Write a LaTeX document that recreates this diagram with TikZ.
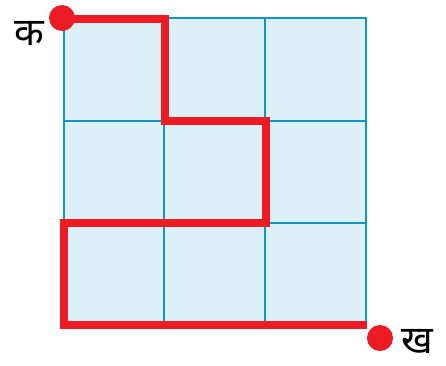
\documentclass[tikz,border=0pt]{standalone}
\usepackage{fontspec}
\newfontfamily\devfont[Script=Devanagari]{Noto Sans}
\definecolor{cellfill}{HTML}{DDEFF7}
\definecolor{gridblue}{HTML}{1296C8}
\definecolor{pathred}{HTML}{ED1C24}
\tikzset{
  cellbox/.style={draw=gridblue, line width=2.2pt, fill=cellfill},
  redpath/.style={draw=pathred, line width=6pt},
  reddot/.style={circle, fill=pathred, inner sep=0pt, minimum size=19.5pt},
  lbl/.style={font=\devfont\fontsize{29}{33}\selectfont, inner sep=0pt, text=black}
}
\begin{document}
\begin{tikzpicture}[x=0.75pt,y=-0.75pt]
\useasboundingbox (0,0) rectangle (446,365);
% grid cells
\path[cellbox] (64,18) rectangle (164,121);
\path[cellbox] (164,18) rectangle (265,121);
\path[cellbox] (265,18) rectangle (366,121);
\path[cellbox] (64,121) rectangle (164,222);
\path[cellbox] (164,121) rectangle (265,222);
\path[cellbox] (265,121) rectangle (366,223);
\path[cellbox] (64,222) rectangle (164,324);
\path[cellbox] (164,222) rectangle (265,324);
\path[cellbox] (265,223) rectangle (366,324);
% path coordinates
\coordinate (p0) at (63,19);
\coordinate (p1) at (165,19);
\coordinate (p2) at (165,121);
\coordinate (p3) at (266,121);
\coordinate (p4) at (266,223);
\coordinate (p5) at (64,223);
\coordinate (p6) at (64,324.5);
\coordinate (p7) at (367,324.5);
\draw[redpath] (p0) -| (p2) -| (p4) -| (p6) -- (p7);
\node[reddot] (start) at (62,18) {};
\node[reddot] (end) at (380,338) {};
\node[lbl] (ka) at (29,33) {क};
\node[lbl] (kha) at (417,341) {ख};
\end{tikzpicture}
\end{document}
